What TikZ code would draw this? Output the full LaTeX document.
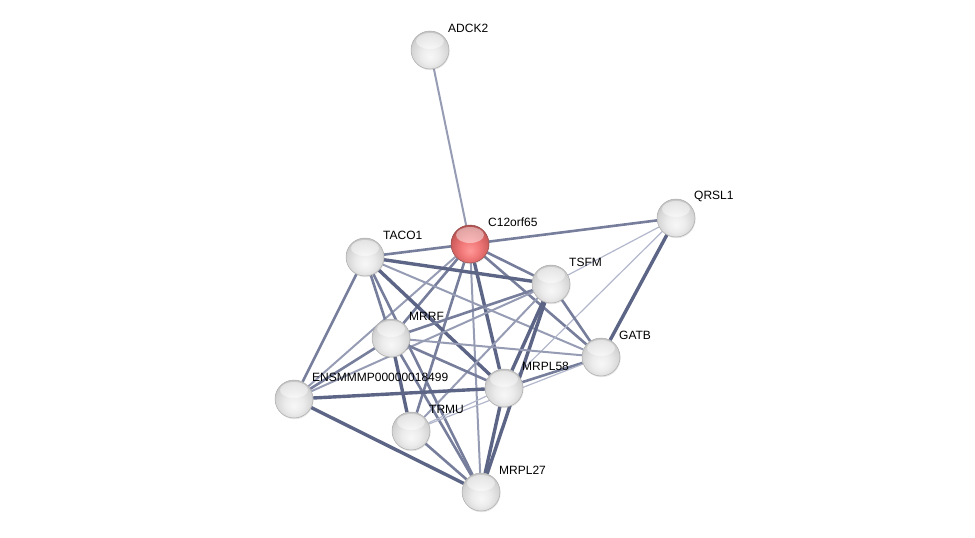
\documentclass[tikz,border=0pt]{standalone}
\usepackage{fontspec}
\setmainfont{Liberation Sans}
\usetikzlibrary{backgrounds,shadows}
\definecolor{eA}{RGB}{178,183,204}
\definecolor{eB}{RGB}{150,156,180}
\definecolor{eC}{RGB}{118,126,156}
\definecolor{eD}{RGB}{92,101,134}
\pgfdeclareradialshading{sphereg}{\pgfpoint{0bp}{-9bp}}{color(0bp)=(gray!6); color(12bp)=(gray!15); color(24bp)=(gray!33); color(30bp)=(gray!50); color(50bp)=(gray!50)}
\pgfdeclareradialshading{spherer}{\pgfpoint{0bp}{-9bp}}{color(0bp)=(red!40!white); color(12bp)=(red!50!white!95!black); color(24bp)=(red!55!white!82!black); color(30bp)=(red!55!white!65!black); color(50bp)=(red!55!white!65!black)}
\begin{document}
\begin{tikzpicture}[x=1pt,y=-1pt,
  prot/.style={circle,minimum size=38pt,inner sep=0pt,shading=sphereg,
    draw=gray!65,line width=0.5pt,
    drop shadow={opacity=0.2,shadow xshift=0.6pt,shadow yshift=-1.2pt},
    path picture={\fill[white,opacity=0.45] ([yshift=9pt]path picture bounding box.center) ellipse (14pt and 8pt);}},
  redprot/.style={prot,shading=spherer,draw=red!40!black!70},
  lbl/.style={anchor=west,inner sep=0pt,font=\fontsize{12pt}{12pt}\selectfont,text=black},
  e1/.style={line width=1.2pt,draw=eA},
  e2/.style={line width=2pt,draw=eB},
  e3/.style={line width=2.6pt,draw=eC},
  e4/.style={line width=3.4pt,draw=eD}]
\useasboundingbox (0,0) rectangle (975,538);
\newcommand\protnode[5][prot]{\node[#1] (#2) at (#3,#4) {}; \node[lbl] (#2l) at ({#3+18},{#4-22}) {#5};}
\protnode{A}{430}{50}{ADCK2}
\protnode[redprot]{C}{470}{244}{C12orf65}
\protnode{Q}{676}{218}{QRSL1}
\protnode{T}{365}{257}{TACO1}
\protnode{S}{551}{284}{TSFM}
\protnode{R}{391}{338}{MRRF}
\protnode{G}{601}{357}{GATB}
\protnode{E}{294}{399}{ENSMMMP00000018499}
\protnode{M}{504}{388}{MRPL58}
\protnode{U}{411}{431}{TRMU}
\protnode{L}{481}{492}{MRPL27}
\begin{scope}[on background layer]
\draw[e2] (A) -- (C);
\draw[e3] (C) -- (Q);
\draw[e3] (C) -- (T);
\draw[e3] (C) -- (S);
\draw[e3] (C) -- (G);
\draw[e3] (C) -- (R);
\draw[e2] (C) -- (E);
\draw[e4] (C) -- (M);
\draw[e2] (C) -- (L);
\draw[e3] (C) -- (U);
\draw[e4] (T) -- (S);
\draw[e3] (T) -- (R);
\draw[e3] (T) -- (E);
\draw[e4] (T) -- (M);
\draw[e3] (T) -- (L);
\draw[e2] (T) -- (G);
\draw[e1] (Q) -- (S);
\draw[e1] (Q) -- (M);
\draw[e4] (Q) -- (G);
\draw[e3] (S) -- (G);
\draw[e3] (S) -- (R);
\draw[e4] (S) -- (M);
\draw[e4] (S) -- (L);
\draw[e2] (S) -- (U);
\draw[e2] (S) -- (E);
\draw[e3] (R) -- (E);
\draw[e3] (R) -- (M);
\draw[e2] (R) -- (G);
\draw[e4] (R) -- (U);
\draw[e3] (R) -- (L);
\draw[e4] (E) -- (M);
\draw[e4] (E) -- (L);
\draw[e3] (M) -- (G);
\draw[e1] (M) -- (U);
\draw[e4] (M) -- (L);
\draw[e3] (U) -- (L);
\draw[e1] (U) -- (G);
\end{scope}
\end{tikzpicture}
\end{document}
